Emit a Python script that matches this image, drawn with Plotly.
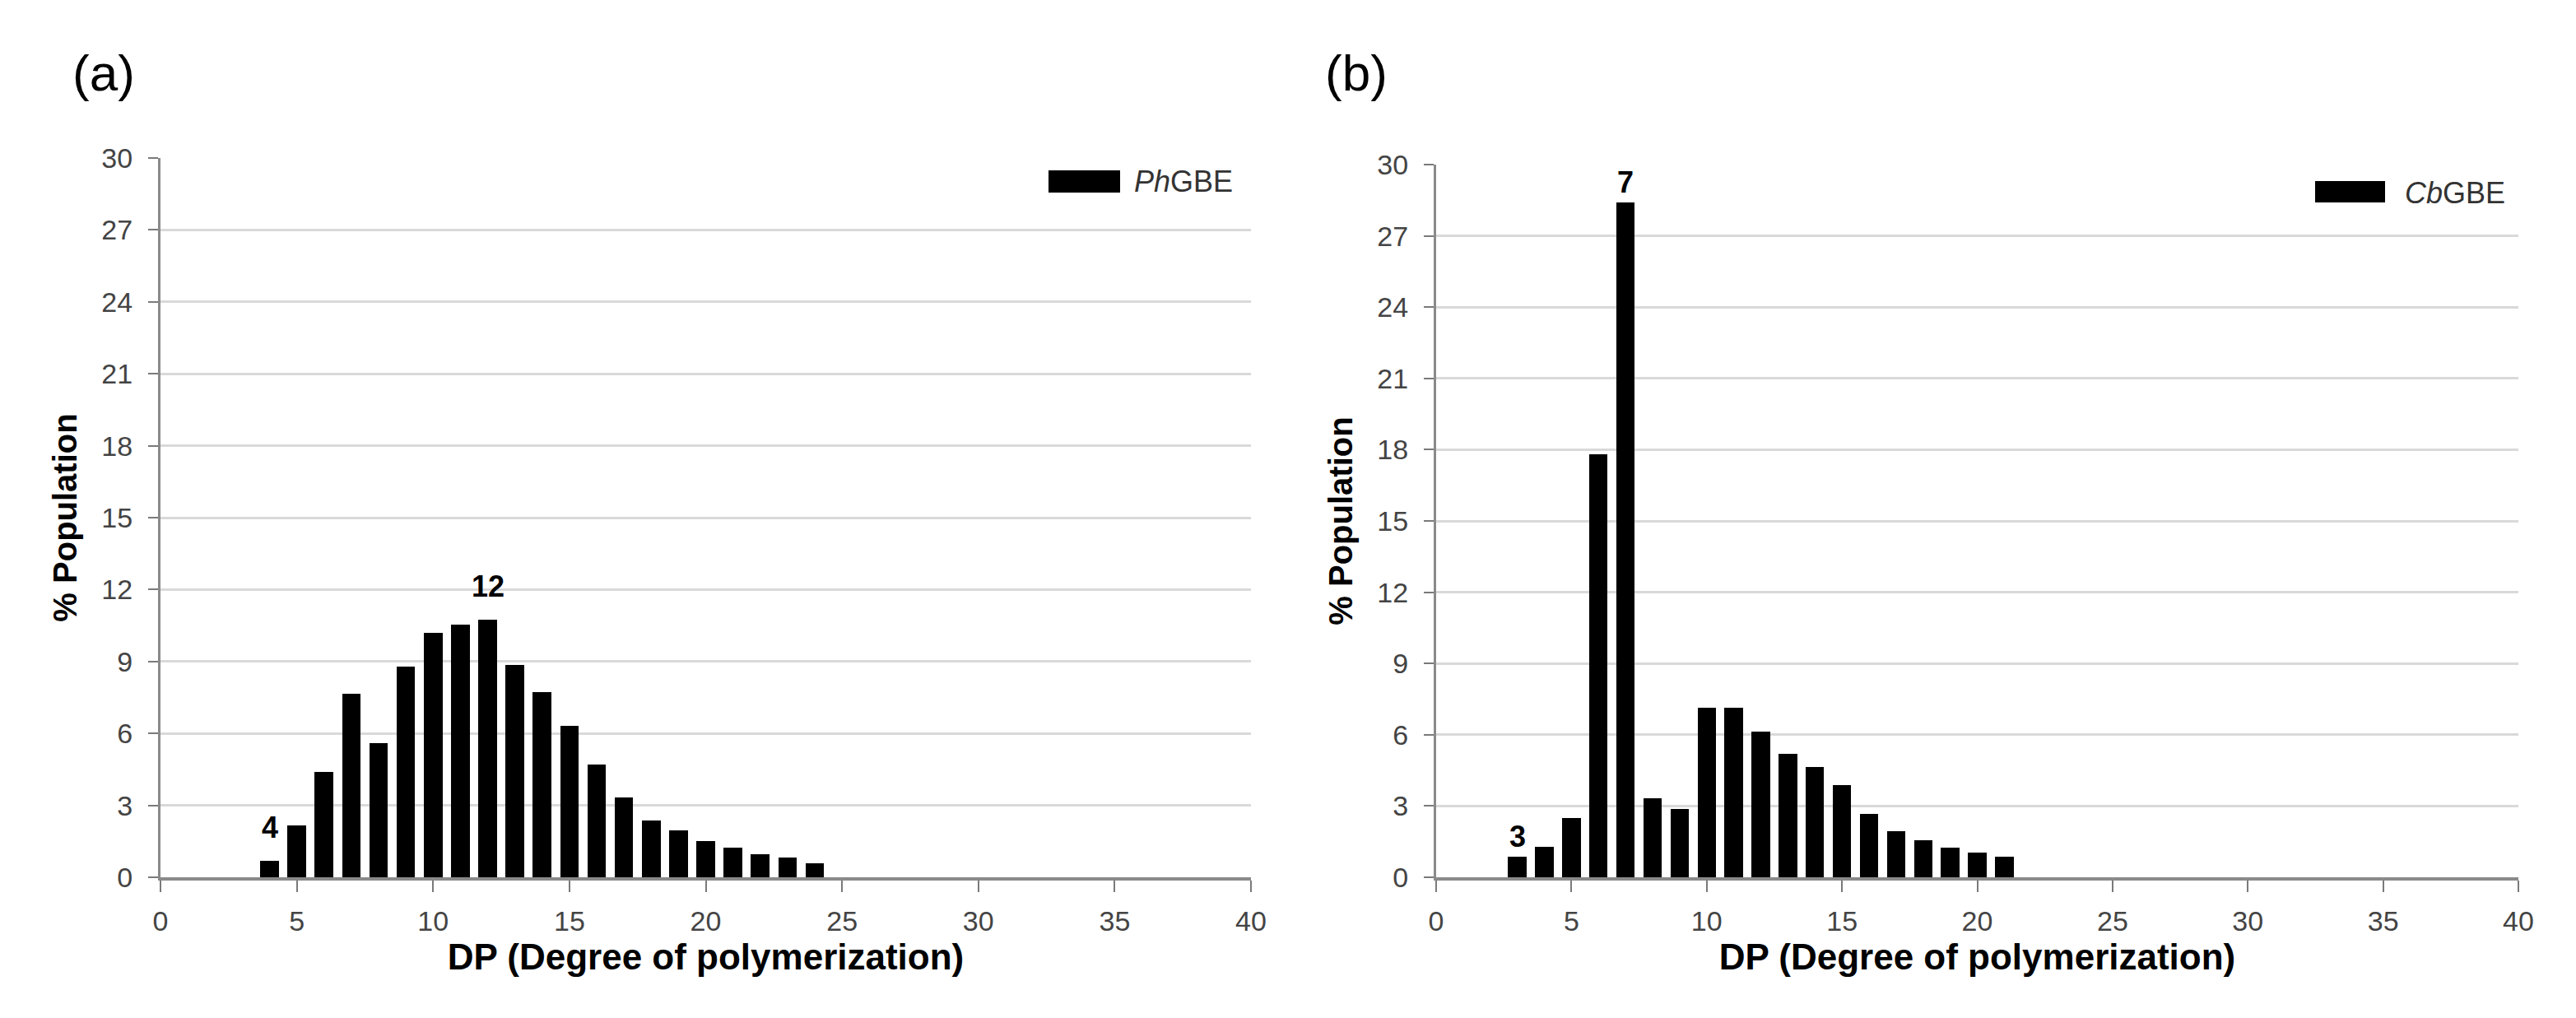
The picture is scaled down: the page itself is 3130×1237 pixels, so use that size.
import plotly.graph_objects as go

# ---- data ----
dp_a = list(range(4, 25))
pop_a = [0.68, 2.17, 4.41, 7.66, 5.59, 8.78, 10.18, 10.55, 10.74, 8.87, 7.72,
         6.33, 4.70, 3.34, 2.36, 1.94, 1.51, 1.22, 0.97, 0.82, 0.57]
dp_b = list(range(3, 22))
pop_b = [0.85, 1.29, 2.49, 17.8, 28.4, 3.32, 2.88, 7.12, 7.12, 6.12, 5.21,
         4.63, 3.88, 2.68, 1.95, 1.55, 1.23, 1.03, 0.86]
name_a = "<i>Ph</i>GBE"
name_b = "<i>Cb</i>GBE"
labels_a = [4, 12]
labels_b = [3, 7]
x_ticks = [0, 5, 10, 15, 20, 25, 30, 35, 40]
y_ticks = [0, 3, 6, 9, 12, 15, 18, 21, 24, 27, 30]

W, H = 3130, 1237
FONT = "Liberation Sans, Arial, sans-serif"

def px(x):
    return x / W

def py(y):
    return 1 - y / H

fig = go.Figure()
fig.add_trace(go.Bar(x=dp_a, y=pop_a, width=0.68, marker=dict(color="black", line=dict(width=0)),
                     name=name_a, xaxis="x", yaxis="y", showlegend=False))
fig.add_trace(go.Bar(x=dp_b, y=pop_b, width=0.68, marker=dict(color="black", line=dict(width=0)),
                     name=name_b, xaxis="x2", yaxis="y2", showlegend=False))

def xaxis(domain, anchor):
    return dict(domain=domain, anchor=anchor, range=[0, 40], tickvals=x_ticks, automargin=False,
                showline=True, linecolor="#8a8a8a", linewidth=4, ticks="outside", ticklen=14,
                tickwidth=2, tickcolor="#7a7a7a", showgrid=False, zeroline=False,
                ticklabelstandoff=6,
                tickfont=dict(size=34, color="#444444", family=FONT),
                title=dict(text="<b>DP (Degree of polymerization)</b>", standoff=6,
                           font=dict(size=44, color="black", family=FONT)))

def yaxis(domain, anchor):
    return dict(domain=domain, anchor=anchor, range=[0, 30], tickvals=y_ticks, automargin=False,
                showline=True, linecolor="#8a8a8a", linewidth=3, ticks="outside", ticklen=12,
                tickwidth=2, tickcolor="#7a7a7a", showgrid=True, gridcolor="#d9d9d9", gridwidth=3,
                zeroline=False, ticklabelstandoff=12,
                tickfont=dict(size=34, color="#444444", family=FONT),
                title=dict(text="<b>% Population</b>", standoff=18,
                           font=dict(size=40, color="black", family=FONT)))

fig.update_layout(
    width=W, height=H,
    margin=dict(l=0, r=0, t=0, b=0, pad=0, autoexpand=False),
    paper_bgcolor="white", plot_bgcolor="white",
    font=dict(family=FONT),
    bargap=0,
    xaxis=xaxis([px(187), px(1512)], "y"),
    yaxis=yaxis([py(1058), py(184)], "x"),
    xaxis2=xaxis([px(1737), px(3052)], "y2"),
    yaxis2=yaxis([py(1058), py(192)], "x2"),
)

annotations = []
for v in labels_a:
    annotations.append(dict(x=v, y=pop_a[dp_a.index(v)], xref="x", yref="y", text=f"<b>{v}</b>",
                            showarrow=False, xanchor="center", yanchor="bottom", yshift=18,
                            font=dict(size=36, color="black", family=FONT)))
for v in labels_b:
    annotations.append(dict(x=v, y=pop_b[dp_b.index(v)], xref="x2", yref="y2", text=f"<b>{v}</b>",
                            showarrow=False, xanchor="center", yanchor="bottom", yshift=2,
                            font=dict(size=36, color="black", family=FONT)))
annotations.append(dict(x=px(118), y=py(80), xref="paper", yref="paper", text="(a)", showarrow=False,
                        xanchor="center", yanchor="middle",
                        font=dict(size=62, color="black", family=FONT)))
annotations.append(dict(x=px(1640), y=py(80), xref="paper", yref="paper", text="(b)", showarrow=False,
                        xanchor="center", yanchor="middle",
                        font=dict(size=62, color="black", family=FONT)))
# legends
annotations.append(dict(x=px(1368), y=py(213), xref="paper", yref="paper", text=name_a, showarrow=False,
                        xanchor="left", yanchor="middle", font=dict(size=36, color="#333333", family=FONT)))
annotations.append(dict(x=px(2912), y=py(226), xref="paper", yref="paper", text=name_b, showarrow=False,
                        xanchor="left", yanchor="middle", font=dict(size=36, color="#333333", family=FONT)))
fig.update_layout(annotations=annotations)

fig.add_shape(type="rect", xref="paper", yref="paper", x0=px(1266), x1=px(1353), y0=py(226), y1=py(199),
              fillcolor="black", line=dict(width=0))
fig.add_shape(type="rect", xref="paper", yref="paper", x0=px(2805), x1=px(2890), y0=py(238), y1=py(212),
              fillcolor="black", line=dict(width=0))

fig.write_html("out.html")
